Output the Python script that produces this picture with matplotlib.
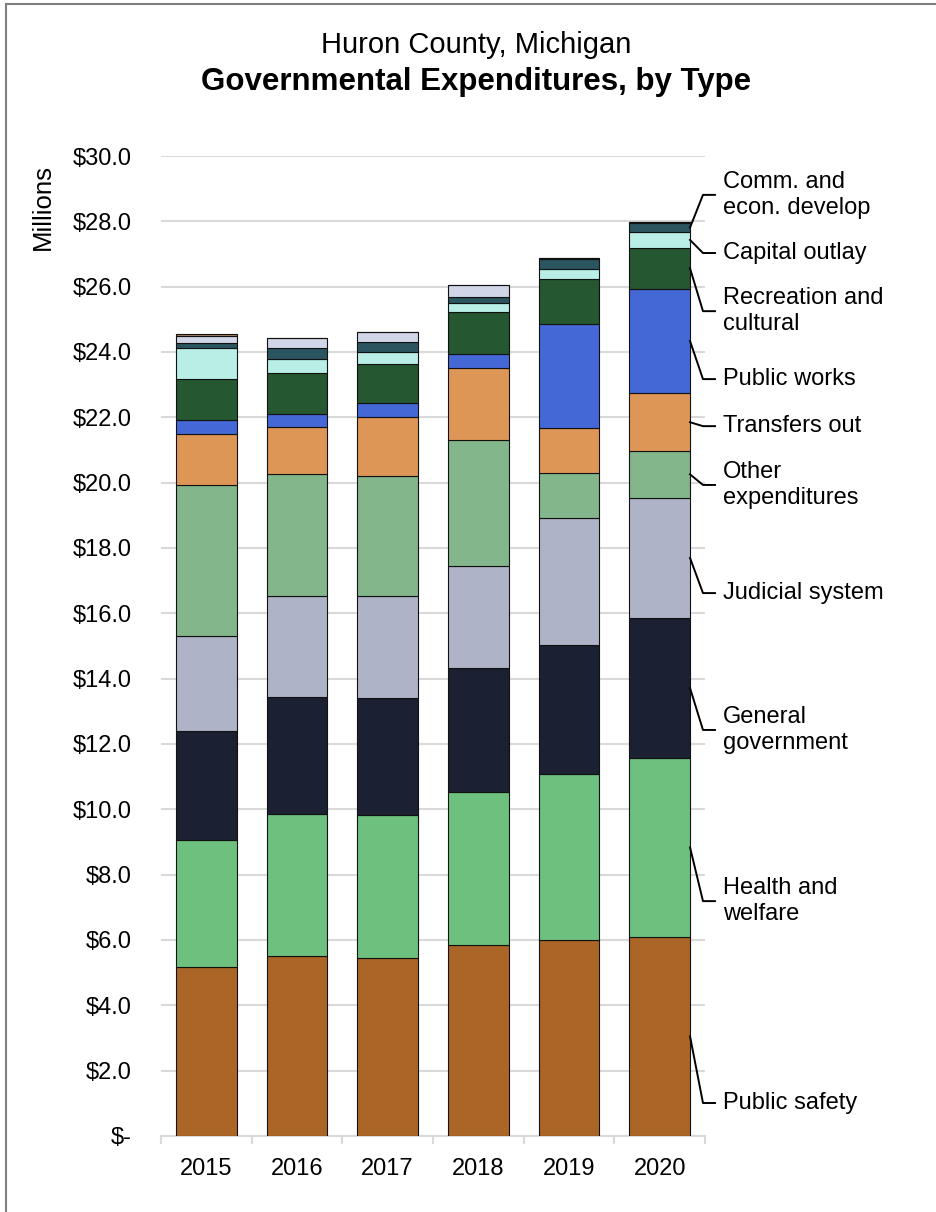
import numpy as np
import matplotlib
matplotlib.use("Agg")
import matplotlib.pyplot as plt
from matplotlib.patches import Rectangle

plt.rcParams['font.family'] = ['Liberation Sans', 'DejaVu Sans']

years = ['2015', '2016', '2017', '2018', '2019', '2020']

# values in millions, stacked bottom -> top
public_safety = [5.18, 5.52, 5.44, 5.84, 5.99, 6.10]
health_welfare = [3.87, 4.33, 4.39, 4.68, 5.08, 5.47]
general_gov = [3.34, 3.60, 3.58, 3.80, 3.96, 4.28]
judicial = [2.93, 3.07, 3.13, 3.12, 3.90, 3.69]
other_exp = [4.62, 3.75, 3.66, 3.86, 1.37, 1.43]
transfers_out = [1.56, 1.44, 1.82, 2.20, 1.36, 1.76]
public_works = [0.41, 0.38, 0.41, 0.43, 3.19, 3.21]
recreation = [1.26, 1.26, 1.20, 1.29, 1.37, 1.24]
capital_outlay = [0.94, 0.45, 0.38, 0.27, 0.33, 0.50]
comm_econ = [0.16, 0.31, 0.30, 0.20, 0.31, 0.26]
debt_service = [0.21, 0.33, 0.31, 0.35, 0.03, 0.05]
misc = [0.06, 0.0, 0.0, 0.0, 0.0, 0.0]

series = [
    ('Public safety', public_safety, '#AB6526'),
    ('Health and\nwelfare', health_welfare, '#6DC07D'),
    ('General\ngovernment', general_gov, '#1B2033'),
    ('Judicial system', judicial, '#AFB3C7'),
    ('Other\nexpenditures', other_exp, '#83B68A'),
    ('Transfers out', transfers_out, '#DE9657'),
    ('Public works', public_works, '#4469D7'),
    ('Recreation and\ncultural', recreation, '#255730'),
    ('Capital outlay', capital_outlay, '#B8EEE6'),
    ('Comm. and\necon. develop', comm_econ, '#2B5560'),
    (None, debt_service, '#D0D5E8'),
    (None, misc, '#A8825E'),
]

# where the right-hand labels sit (data units on the y axis)
label_y = [1.01, 7.19, 12.43, 16.62, 19.93, 21.73, 23.17, 25.25, 27.03, 28.81]

W, H = 936, 1212
fig = plt.figure(figsize=(W / 100, H / 100), dpi=100)
ax = fig.add_axes([161 / W, 1 - 1136 / H, (705 - 161) / W, (1136 - 156) / H])

x = np.arange(len(years))
bw = 0.67
bottom = np.zeros(len(years))
for name, vals, col in series:
    vals = np.array(vals)
    ax.bar(x, vals, bw, bottom=bottom, color=col, edgecolor='#111111', linewidth=0.8, zorder=3)
    bottom += vals

ax.set_xlim(-0.5, 5.5)
ax.set_ylim(0, 30)
ax.set_yticks(np.arange(0, 31, 2))
ax.set_yticklabels(['$-'] + ['$%.1f' % v for v in np.arange(2, 31, 2)])
ax.set_xticks(x)
ax.set_xticklabels(years)
ax.set_xticks(np.arange(-0.5, 6, 1), minor=True)
ax.grid(axis='y', color='#D9D9D9', linewidth=1.5, zorder=0)
for s in ['top', 'right', 'left']:
    ax.spines[s].set_visible(False)
ax.spines['bottom'].set_color('#D9D9D9')
ax.spines['bottom'].set_linewidth(1.5)
ax.tick_params(axis='y', length=0, pad=21, labelsize=17)
ax.tick_params(axis='x', which='major', length=0, pad=16, labelsize=17)
ax.tick_params(axis='x', which='minor', length=6, width=1.5, color='#D9D9D9')

# leader-line labels for the 2020 bar
last = len(years) - 1
edge_x = last + bw / 2
px = 90.67  # pixels per x unit
elbow_x = -0.5 + (703 - 161) / px
tick_x = -0.5 + (715 - 161) / px
text_x = -0.5 + (723 - 161) / px
cum = 0.0
li = 0
for name, vals, col in series:
    v = vals[last]
    if name is not None:
        mid = cum + v / 2
        ly = label_y[li]
        ax.plot([edge_x, elbow_x, tick_x], [mid, ly, ly], color='black', lw=1.4,
                clip_on=False, zorder=4)
        ax.text(text_x, ly, name, fontsize=17, va='center', ha='left',
                linespacing=1.25)
        li += 1
    cum += v

fig.text(43 / W, 1 - 207 / H, 'Millions', rotation=90, fontsize=18.5, ha='center', va='center')
fig.text(476 / W, 1 - 45 / H, 'Huron County, Michigan', fontsize=21, ha='center', va='center')
fig.text(476 / W, 1 - 82 / H, 'Governmental Expenditures, by Type', fontsize=22.5,
         fontweight='bold', ha='center', va='center')

fig.patches.append(Rectangle((6 / W, -0.05), 1.1, 1 - 4 / H + 0.05, transform=fig.transFigure,
                             fill=False, edgecolor='#7F7F7F', linewidth=1.5))

fig.savefig('out.png', dpi=100)
